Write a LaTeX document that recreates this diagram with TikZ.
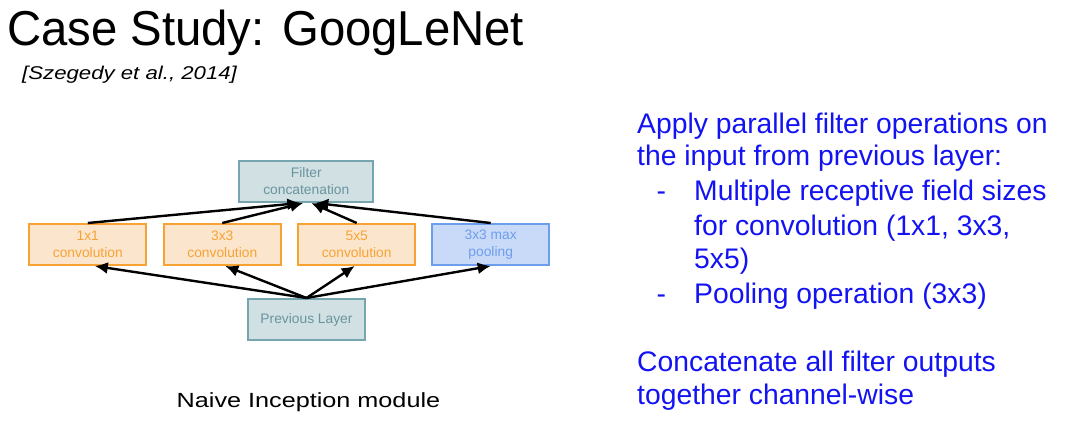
\documentclass[tikz,border=0pt]{standalone}
\usepackage{fontspec}
\setmainfont{Liberation Sans}
\usetikzlibrary{arrows.meta}
\definecolor{tealfill}{HTML}{D0E0E3}
\definecolor{tealline}{HTML}{76A5AF}
\definecolor{orfill}{HTML}{FCE5CD}
\definecolor{orline}{HTML}{F7A334}
\definecolor{blfill}{HTML}{C9DAF8}
\definecolor{blline}{HTML}{6D9EEB}
\definecolor{txtblue}{HTML}{1212F2}
\tikzset{
  box/.style={draw, line width=2pt, minimum width=117pt, minimum height=41pt, inner sep=0pt, align=center, font=\fontsize{13.8}{17}\selectfont},
  tealbox/.style={box, fill=tealfill, draw=tealline, text=tealline!90!black, minimum width=134pt},
  orbox/.style={box, fill=orfill, draw=orline, text=orline},
  blbox/.style={box, fill=blfill, draw=blline, text=blline},
  arr/.style={line width=2.4pt, -{Latex[length=13pt,width=12pt]}},
  rtxt/.style={anchor=base west, inner sep=0pt, text=txtblue, font=\fontsize{28.3}{34}\selectfont}
}
\begin{document}
\begin{tikzpicture}[x=1pt,y=-1pt]
\useasboundingbox (0,0) rectangle (1069,434);
\node[anchor=base west, inner sep=0pt, font=\fontsize{49}{56}\selectfont] (title) at (7,45) {\scalebox{0.965}[1]{Case Study: GoogLeNet}};
\node[anchor=base west, inner sep=0pt, font=\fontsize{18.5}{24}\selectfont\itshape] (cite) at (22,79.5) {\scalebox{1.2}[1]{[Szegedy et al., 2014]}};

\node[tealbox] (concat) at (306.3,181.5) {Filter\\concatenation};
\node[orbox] (c1) at (87.8,244.5) {1x1\\convolution};
\node[orbox] (c3) at (222.3,244.5) {3x3\\convolution};
\node[orbox] (c5) at (356.7,244.5) {5x5\\convolution};
\node[blbox] (pool) at (490.7,244.5) {3x3 max\\pooling};
\node[tealbox, minimum width=117pt] (prev) at (306.5,319.5) {Previous Layer};

\draw[arr] (c1.north) -- ([xshift=-6]concat.south);
\draw[arr] (c3.north) -- ([xshift=-3]concat.south);
\draw[arr] (c5.north) -- ([xshift=5]concat.south);
\draw[arr] (pool.north) -- ([xshift=9]concat.south);

\draw[arr] (prev.north) -- ([xshift=7]c1.south);
\draw[arr] (prev.north) -- ([xshift=3]c3.south);
\draw[arr] (prev.north) -- ([xshift=-2]c5.south);
\draw[arr] (prev.north) -- (pool.south);

\node[anchor=base west, inner sep=0pt, font=\fontsize{20.5}{24}\selectfont] (caption) at (176.5,407) {\scalebox{1.23}[1]{Naive Inception module}};

\node[rtxt] (r1) at (637,133.3) {Apply parallel filter operations on};
\node[rtxt] (r2) at (637,165.7) {the input from previous layer:};
\node[rtxt] (d1) at (656.5,200) {-};
\node[rtxt] (r3) at (694,200) {Multiple receptive field sizes};
\node[rtxt] (r4) at (694,235) {for convolution (1x1, 3x3,};
\node[rtxt] (r5) at (694,268) {5x5)};
\node[rtxt] (d2) at (656.5,303) {-};
\node[rtxt] (r6) at (694,303) {Pooling operation (3x3)};
\node[rtxt] (r7) at (637,371.7) {Concatenate all filter outputs};
\node[rtxt] (r8) at (637,404) {together channel-wise};
\end{tikzpicture}
\end{document}
